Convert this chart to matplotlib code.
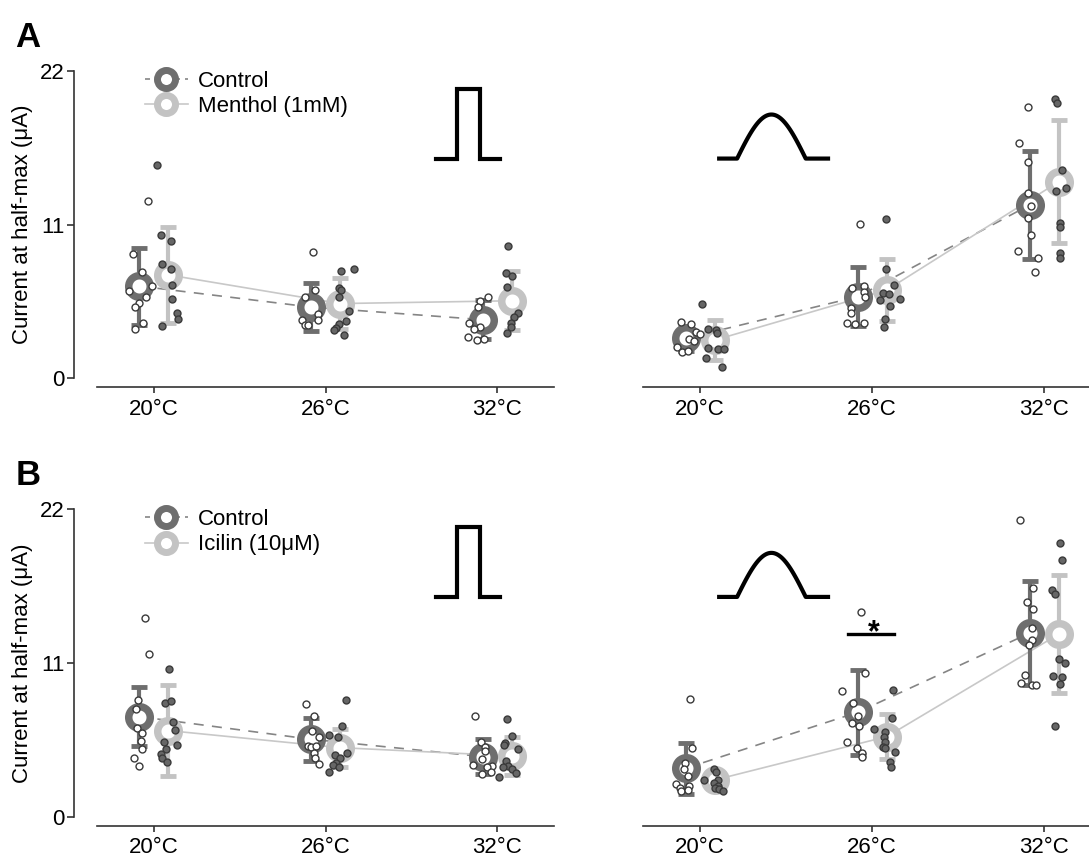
import numpy as np
import matplotlib.pyplot as plt
from matplotlib.lines import Line2D

plt.rcParams['font.family'] = ['Liberation Sans', 'DejaVu Sans']
plt.rcParams['font.size'] = 16

temps = ['20°C', '26°C', '32°C']

# ---------- Panel A, square pulse (control vs menthol) ----------
a_sq_ctrl_mean = [6.6, 5.1, 4.2]
a_sq_ctrl_err = [2.75, 1.7, 1.4]
a_sq_drug_mean = [7.4, 5.35, 5.55]
a_sq_drug_err = [3.45, 1.8, 2.1]
a_sq_ctrl_pts = [[12.70, 8.86, 7.59, 6.59, 6.28, 5.83, 5.42, 5.11, 3.96, 3.53],
                 [9.07, 6.35, 5.83, 4.63, 4.15, 4.15, 3.80, 3.85],
                 [5.84, 5.55, 5.12, 3.98, 3.65, 3.55, 2.93, 2.74, 2.79]]
a_sq_drug_pts = [[15.26, 10.22, 9.81, 8.21, 7.81, 6.66, 5.71, 4.68, 4.28, 3.75],
                 [7.69, 7.81, 6.47, 6.30, 5.83, 4.80, 4.08, 3.91, 3.63, 3.49, 3.13],
                 [9.49, 7.51, 7.32, 6.55, 4.69, 4.41, 3.98, 3.65, 3.26]]

# ---------- Panel A, bell stimulus ----------
a_bl_ctrl_mean = [2.86, 5.84, 12.4]
a_bl_ctrl_err = [0.9, 2.1, 3.85]
a_bl_drug_mean = [2.74, 6.32, 14.07]
a_bl_drug_err = [1.4, 2.2, 4.4]
a_bl_ctrl_pts = [[4.05, 3.86, 3.34, 3.15, 2.81, 2.69, 2.26, 1.90, 1.95],
                 [11.04, 6.60, 6.44, 6.20, 5.84, 5.01, 4.65, 3.98, 3.86, 3.93],
                 [19.43, 16.85, 15.49, 13.23, 12.32, 11.49, 10.25, 9.11, 8.58, 7.63]]
a_bl_drug_pts = [[5.31, 3.53, 3.46, 3.22, 2.19, 2.10, 2.10, 1.43, 0.83],
                 [11.39, 7.82, 6.67, 6.08, 6.03, 5.60, 5.65, 5.19, 4.22, 3.65],
                 [19.96, 19.72, 14.90, 13.59, 13.40, 11.09, 10.85, 8.98, 8.58]]

# ---------- Panel B, square pulse (control vs icilin) ----------
b_sq_ctrl_mean = [7.16, 5.54, 4.3]
b_sq_ctrl_err = [2.1, 1.55, 1.27]
b_sq_drug_mean = [6.16, 4.94, 4.35]
b_sq_drug_err = [3.25, 1.35, 1.35]
b_sq_ctrl_pts = [[14.20, 11.62, 8.35, 7.71, 6.33, 6.01, 5.42, 4.82, 4.18, 3.65],
                 [8.05, 7.21, 6.16, 5.73, 5.08, 5.01, 5.08, 4.58, 4.18, 3.77],
                 [7.21, 5.37, 5.01, 4.70, 4.11, 3.70, 3.65, 3.58, 3.18, 3.03]]
b_sq_drug_pts = [[10.55, 8.16, 8.28, 6.80, 6.21, 5.33, 5.13, 4.82, 4.49, 4.22, 3.94],
                 [8.35, 6.49, 5.85, 5.73, 4.54, 4.42, 4.22, 3.82, 3.70, 3.58, 3.22],
                 [6.99, 5.78, 5.30, 5.11, 4.82, 3.99, 3.63, 3.58, 3.39, 3.15, 2.82]]

# ---------- Panel B, bell stimulus ----------
b_bl_ctrl_mean = [3.46, 7.47, 13.13]
b_bl_ctrl_err = [1.8, 3.05, 3.7]
b_bl_drug_mean = [2.63, 5.73, 13.06]
b_bl_drug_err = [0.6, 1.6, 4.2]
b_bl_ctrl_pts = [[8.40, 4.90, 3.82, 3.41, 2.91, 2.34, 2.20, 2.03, 1.86, 1.91],
                 [14.63, 10.26, 9.02, 8.16, 7.21, 6.69, 6.49, 5.33, 4.90, 4.58, 4.30],
                 [21.24, 16.39, 15.39, 14.85, 13.49, 12.65, 12.29, 10.14, 9.55, 9.43, 9.43]]
b_bl_drug_pts = [[3.41, 3.22, 2.63, 2.63, 2.39, 2.22, 2.03, 1.96, 1.84],
                 [9.07, 7.04, 6.28, 6.08, 5.73, 5.37, 5.01, 4.61, 3.94, 3.58, 4.90],
                 [19.57, 18.38, 16.23, 15.92, 11.29, 10.98, 10.07, 9.98, 9.50, 6.49]]

# horizontal scatter of single cells (1/172 of a category step)
a_sq_ctrl_dx = [[9, -6, 3, 13, -10, 7, 0, -4, 4, -4], [2, 4, -6, 7, 7, -9, -6, -3],
                [5, -3, -5, -14, -3, -9, -15, -6, 1]]
a_sq_drug_dx = [[-11, -7, 3, -6, 3, 4, 4, 9, 10, -6], [1, 14, -1, 1, -1, 9, 6, -1, -4, -6, 4],
                [-4, -6, 0, -5, 6, 2, -1, -1, -5]]
a_bl_ctrl_dx = [[-5, 5, 10, 14, 3, 8, -9, -4, 2], [2, 6, -6, 6, 7, -7, -7, -11, -3, 6],
                [-2, -11, -2, -2, 1, -2, 1, -12, 8, 5]]
a_bl_drug_dx = [[-13, -7, 1, 2, -7, 3, 9, -9, 7], [-1, -1, 7, -4, 2, -7, 13, 3, -2, -3],
                [-4, -2, 3, 7, -3, 1, 1, 1, 1]]
b_sq_ctrl_dx = [[6, 10, -1, -3, -2, 3, 2, 3, -5, 0], [-5, 3, 1, 8, -3, 0, 5, 3, 4, 8],
                [-8, -2, 2, 2, -1, -10, 9, 4, 8, -1]]
b_sq_drug_dx = [[1, -3, 3, 5, 7, -4, 9, -2, -7, -6, -1], [6, 2, -11, -2, 7, -5, 0, -4, -7, -1, -11],
                [-5, 0, -7, -8, 6, -6, -4, -9, 0, 4, -13]]
b_bl_ctrl_dx = [[4, 6, -1, -2, 2, -10, 3, -6, -5, 2], [3, 7, -16, -5, 0, -6, 1, -11, -1, 4, 4],
                [-10, 3, -3, 3, 2, 2, -1, -5, -9, 2, 6]]
b_bl_drug_dx = [[-1, 1, -11, 3, -1, 3, 0, 4, 8], [6, 5, -13, -2, -3, -2, -4, 8, 3, 4, -2],
                [1, 3, -7, -4, 0, 6, -6, 3, 1, -4]]

CTRL_C = '#6e6e6e'
DRUG_C = '#c3c3c3'
DX_UNIT = 1 / 172.0
OFFSET = 0.085
Y_LOW, Y_HIGH = -0.64, 23.0


def draw_series(ax, means, errs, pts, dx, color, shift, dashed, filled):
    x = np.arange(len(temps)) + shift
    if dashed:
        ax.plot(x, means, color='#858585', lw=1.2, ls=(0, (6, 5)), zorder=1)
    else:
        ax.plot(x, means, color='#c8c8c8', lw=1.2, zorder=1)
    ax.errorbar(x, means, yerr=errs, fmt='none', ecolor=color, elinewidth=3,
                capsize=5.5, capthick=3.5, zorder=2)
    ax.plot(x, means, ls='none', marker='o', ms=15.5, mew=5.4, mfc='white',
            mec=color, zorder=3)
    for i in range(len(temps)):
        xs = x[i] + np.array(dx[i]) * DX_UNIT
        ax.plot(xs, pts[i], ls='none', marker='o', ms=5, mew=1.0,
                mfc='#666666' if filled else 'white', mec='#3a3a3a', zorder=4)


def style_axes(ax, show_y):
    ax.set_xlim(-0.33, 2.33)
    ax.set_ylim(Y_LOW, Y_HIGH)
    ax.set_xticks(range(len(temps)), temps)
    ax.spines[['top', 'right']].set_visible(False)
    for side in ['bottom', 'left']:
        ax.spines[side].set_color('#333333')
        ax.spines[side].set_linewidth(1.2)
    ax.tick_params(axis='x', length=4.5, width=1.2, color='#333333', pad=4)
    if show_y:
        ax.spines['left'].set_position(('outward', 16.4))
        ax.spines['left'].set_bounds(0, 22)
        ax.set_yticks([0, 11, 22])
        ax.tick_params(axis='y', length=5, width=1.2, color='#333333', pad=2)
    else:
        ax.spines['left'].set_visible(False)
        ax.set_yticks([])


def draw_pulse(ax, x0, x1, base, top):
    w = x1 - x0
    xs = [x0, x0 + 0.33 * w, x0 + 0.33 * w, x0 + 0.69 * w, x0 + 0.69 * w, x1]
    ys = [base, base, top, top, base, base]
    ax.plot(xs, ys, color='black', lw=3, solid_joinstyle='miter', clip_on=False)


def draw_bell(ax, x0, x1, base, top):
    # half-sine hump: sharp corners at the foot, rounded top
    w = x1 - x0
    a, b = x0 + 0.165 * w, x0 + 0.795 * w
    t = np.linspace(0, 1, 60)
    xs = np.concatenate([[x0], a + (b - a) * t, [x1]])
    ys = np.concatenate([[base], base + (top - base) * np.sin(np.pi * t), [base]])
    ax.plot(xs, ys, color='black', lw=3, clip_on=False)


fig = plt.figure(figsize=(10.89, 8.59), dpi=100)

rows = [
    ('A', 0.5491, 'Menthol (1mM)',
     (a_sq_ctrl_mean, a_sq_ctrl_err, a_sq_ctrl_pts, a_sq_ctrl_dx),
     (a_sq_drug_mean, a_sq_drug_err, a_sq_drug_pts, a_sq_drug_dx),
     (a_bl_ctrl_mean, a_bl_ctrl_err, a_bl_ctrl_pts, a_bl_ctrl_dx),
     (a_bl_drug_mean, a_bl_drug_err, a_bl_drug_pts, a_bl_drug_dx)),
    ('B', 0.0388, 'Icilin (10μM)',
     (b_sq_ctrl_mean, b_sq_ctrl_err, b_sq_ctrl_pts, b_sq_ctrl_dx),
     (b_sq_drug_mean, b_sq_drug_err, b_sq_drug_pts, b_sq_drug_dx),
     (b_bl_ctrl_mean, b_bl_ctrl_err, b_bl_ctrl_pts, b_bl_ctrl_dx),
     (b_bl_drug_mean, b_bl_drug_err, b_bl_drug_pts, b_bl_drug_dx)),
]

for letter, bottom, drug_label, sq_c, sq_d, bl_c, bl_d in rows:
    ax_l = fig.add_axes([0.0892, bottom, 0.4195, 0.3848])
    ax_r = fig.add_axes([0.5909, bottom, 0.4201, 0.3848])

    draw_series(ax_l, *sq_c, CTRL_C, -OFFSET, dashed=True, filled=False)
    draw_series(ax_l, *sq_d, DRUG_C, OFFSET, dashed=False, filled=True)
    draw_series(ax_r, *bl_c, CTRL_C, -OFFSET, dashed=True, filled=False)
    draw_series(ax_r, *bl_d, DRUG_C, OFFSET, dashed=False, filled=True)

    style_axes(ax_l, True)
    style_axes(ax_r, False)

    # stimulus shape icons
    draw_pulse(ax_l, 1.641, 2.016, 15.72, 20.72)
    draw_bell(ax_r, 0.11, 0.743, 15.72, 18.87)

    handles = [
        Line2D([], [], color='#858585', lw=1.2, ls=(0, (3, 3)), marker='o', ms=13,
               mew=5, mfc='white', mec=CTRL_C),
        Line2D([], [], color='#c8c8c8', lw=1.2, marker='o', ms=13, mew=5,
               mfc='white', mec=DRUG_C),
    ]
    ax_l.legend(handles, ['Control', drug_label], loc='upper left',
                bbox_to_anchor=(0.104, 0.958), frameon=False, borderpad=0,
                borderaxespad=0, handlelength=1.94, handletextpad=0.45,
                labelspacing=0.2, fontsize=16)

    fig.text(0.014, bottom + 0.3962, letter, fontsize=25, fontweight='bold',
             va='baseline', ha='left')
    fig.text(0.0207, bottom + (0.64 + 11) * 0.3848 / (Y_HIGH - Y_LOW),
             'Current at half-max (μA)', rotation=90, ha='center', va='center',
             fontsize=16)

    if letter == 'B':
        # significance marker at 26°C
        ax_r.plot([0.858, 1.129], [13.06, 13.06], color='black', lw=2.4)
        ax_r.text(1.009, 12.55, '*', ha='center', va='baseline', fontsize=22,
                  fontweight='bold')

fig.savefig('out.png', dpi=100)
